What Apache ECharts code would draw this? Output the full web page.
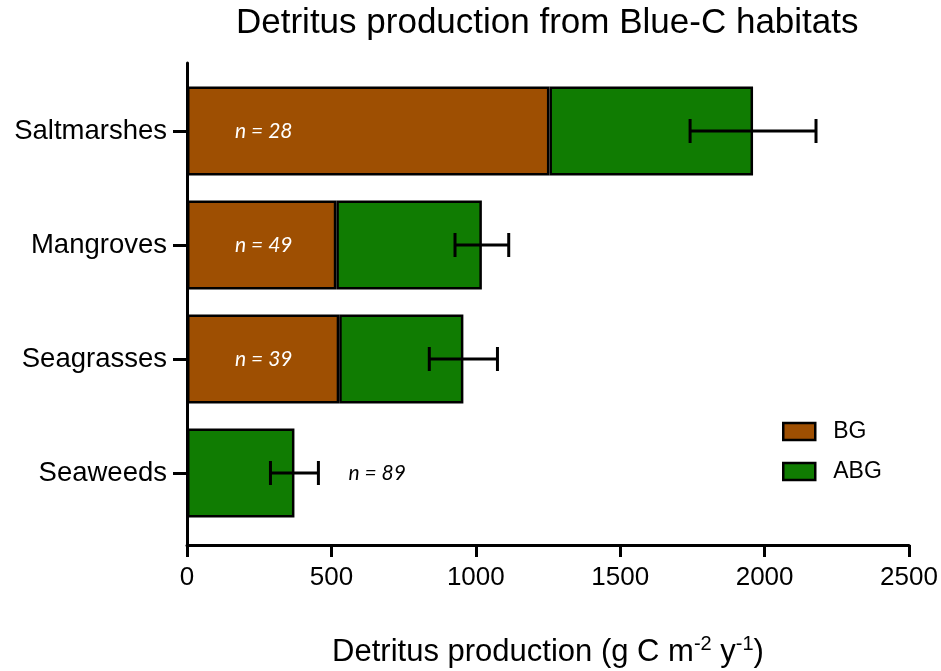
<!DOCTYPE html>
<html>
<head>
<meta charset="utf-8">
<script src="https://cdn.jsdelivr.net/npm/echarts@6/dist/echarts.min.js"></script>
<style>html,body{margin:0;padding:0;background:#fff}#c{width:941px;height:671px}</style>
</head>
<body>
<div id="c"></div>
<script>
const categories = ['Saltmarshes', 'Mangroves', 'Seagrasses', 'Seaweeds'];
const bgValues = [1255, 517, 527, null];
const abgValues = [705, 504, 430, 372];
const errValues = [218, 93, 118, 83];
const nLabels = ['n = 28', 'n = 49', 'n = 39', 'n = 89'];
const xMin = 0, xMax = 2500, xInterval = 500;

const BG_COLOR = '#9E4F02';
const ABG_COLOR = '#107C02';
const FONT = '"Liberation Sans", Arial, sans-serif';

const chart = echarts.init(document.getElementById('c'));

const totals = categories.map((c, i) => (bgValues[i] || 0) + abgValues[i]);
const errData = categories.map((c, i) => [totals[i] - errValues[i], totals[i] + errValues[i], i]);

const nLabelStyle = {
  show: true, fontFamily: 'Lato, "Open Sans", sans-serif', fontStyle: 'italic', fontSize: 21
};

const bgData = bgValues.map((v, i) => v == null ? '-' : {
  value: v,
  label: Object.assign({}, nLabelStyle, { position: 'insideLeft', distance: 48, color: '#fff', formatter: nLabels[i] })
});
const abgData = abgValues.map((v, i) => bgValues[i] == null ? {
  value: v,
  label: Object.assign({}, nLabelStyle, { position: 'right', distance: 54, color: '#000', formatter: nLabels[i] })
} : v);

chart.setOption({
  animation: false,
  title: {
    text: 'Detritus production from Blue-C habitats',
    left: 236, top: 6, padding: 0,
    textStyle: { fontFamily: FONT, fontSize: 35, fontWeight: 'normal', color: '#000' }
  },
  legend: {
    orient: 'vertical', left: 782, top: 420, padding: 0,
    icon: 'rect',
    itemWidth: 32, itemHeight: 17, itemGap: 17,
    itemStyle: { borderColor: '#000', borderWidth: 2.5 },
    textStyle: { fontFamily: FONT, fontSize: 23, lineHeight: 23, color: '#000', padding: [0, 0, 0, 13] },
    data: ['BG', 'ABG']
  },
  grid: [
    { left: 187, right: 32, top: 74, height: 456, outerBoundsMode: 'none', containLabel: false },
    { left: 187, right: 32, top: 63, bottom: 126, outerBoundsMode: 'none', containLabel: false }
  ],
  xAxis: [
    { type: 'value', gridIndex: 0, min: xMin, max: xMax, interval: xInterval, show: false },
    {
      type: 'value', gridIndex: 1, min: xMin, max: xMax, interval: xInterval,
      axisLine: { show: true, lineStyle: { color: '#000', width: 3 } },
      axisTick: { show: true, length: 12, lineStyle: { color: '#000', width: 3 } },
      axisLabel: { fontFamily: FONT, fontSize: 26, color: '#000', margin: 20, formatter: v => String(v) },
      splitLine: { show: false },
      name: 'Detritus production (g C m{sup|-2} y{sup|-1})',
      nameLocation: 'middle', nameGap: 89,
      nameTextStyle: {
        fontFamily: FONT, fontSize: 31, color: '#000', lineHeight: 36,
        rich: { sup: { fontFamily: FONT, fontSize: 20, color: '#000', verticalAlign: 'top', lineHeight: 36, padding: [0, 0, 16, 0] } }
      }
    }
  ],
  yAxis: [
    {
      type: 'category', gridIndex: 0, data: categories, inverse: true,
      axisLine: { show: false },
      axisTick: { show: true, alignWithLabel: true, length: 14, lineStyle: { color: '#000', width: 3 } },
      axisLabel: { fontFamily: FONT, fontSize: 27.5, color: '#000', margin: 20 },
      splitLine: { show: false }
    },
    {
      type: 'value', gridIndex: 1, min: 0, max: 1,
      axisLine: { show: true, lineStyle: { color: '#000', width: 3 } },
      axisTick: { show: false }, axisLabel: { show: false }, splitLine: { show: false }
    }
  ],
  series: [
    {
      name: 'BG', type: 'bar', stack: 'total', xAxisIndex: 0, yAxisIndex: 0,
      barWidth: 89, data: bgData,
      itemStyle: { color: BG_COLOR, borderColor: '#000', borderWidth: 2.5 }
    },
    {
      name: 'ABG', type: 'bar', stack: 'total', xAxisIndex: 0, yAxisIndex: 0,
      barWidth: 89, data: abgData,
      itemStyle: { color: ABG_COLOR, borderColor: '#000', borderWidth: 2.5 }
    },
    {
      type: 'custom', xAxisIndex: 0, yAxisIndex: 0, z: 10,
      data: errData,
      renderItem: function (params, api) {
        const lo = api.coord([api.value(0), api.value(2)]);
        const hi = api.coord([api.value(1), api.value(2)]);
        const cap = 12;
        const style = { stroke: '#000', lineWidth: 3 };
        return {
          type: 'group',
          children: [
            { type: 'line', shape: { x1: lo[0], y1: lo[1], x2: hi[0], y2: hi[1] }, style: style },
            { type: 'line', shape: { x1: lo[0], y1: lo[1] - cap, x2: lo[0], y2: lo[1] + cap }, style: style },
            { type: 'line', shape: { x1: hi[0], y1: hi[1] - cap, x2: hi[0], y2: hi[1] + cap }, style: style }
          ]
        };
      }
    }
  ]
});
</script>
</body>
</html>
